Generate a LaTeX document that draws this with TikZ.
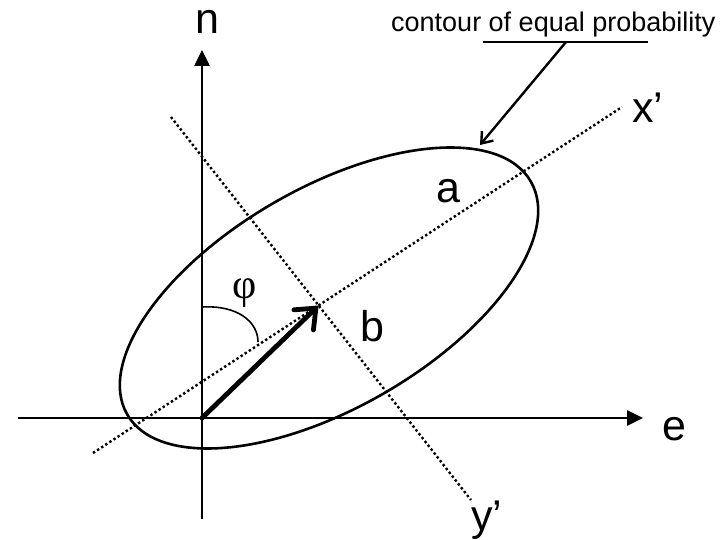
\documentclass[tikz,border=0pt]{standalone}
\usepackage{fontspec}
\setmainfont{Liberation Sans}
\newfontfamily\greekfont{Liberation Serif}
\usetikzlibrary{arrows.meta,calc}

\begin{document}
\begin{tikzpicture}[
  x=1pt, y=1pt,
  axis/.style={line width=2.6pt, -{Triangle[length=16pt,width=15pt]}},
  princ/.style={line width=2.4pt, dash pattern=on 2.4pt off 2.5pt},
  contour/.style={line width=2.6pt},
  lead/.style={line width=2.4pt},
  lbl/.style={inner sep=0pt, font=\fontsize{43}{43}\selectfont, anchor=base},
  note/.style={inner sep=0pt, font=\fontsize{27}{27}\selectfont, anchor=base west},
]
\useasboundingbox (0,0) rectangle (721,-540);
% axes n and e
\coordinate (O) at (202,-418);
\coordinate (nlo) at (202,-519);
\coordinate (nhi) at (202,-50);
\coordinate (elo) at (18,-418);
\coordinate (ehi) at (643,-418);
\draw[axis] (nlo) -- (nhi);
\draw[axis] (elo) -- (ehi);
% principal axes x' and y' (dotted)
\coordinate (xlo) at (93,-453);
\coordinate (xhi) at (622,-107);
\coordinate (ylo) at (171,-117);
\coordinate (yhi) at (471,-500);
\draw[princ] (xlo) -- (xhi);
\draw[princ] (ylo) -- (yhi);
\coordinate (ctr) at (intersection of xlo--xhi and ylo--yhi);
% contour ellipse
\coordinate (ell) at (329,-298);
\draw[contour, rotate around={30:(ell)}] (ell) ellipse [x radius=233, y radius=110];
% offset vector and angle
\draw[line width=4.8pt, line cap=round, -{Straight Barb[length=17pt,width=28pt,line cap=round]}] (O) -- (ctr);
\coordinate (phi1) at (202,-307);
\coordinate (phi2) at (258,-342);
\draw[line width=1.6pt] (phi1) .. controls (238,-305) and (258,-322) .. (phi2);
% labels
\foreach \nm/\px/\py/\txt in {ln/207/-34/n, le/674/-440/e, lx/648/-123/x’, ly/487/-530/y’, la/448/-203/a, lb/372/-342/b}
  \node[lbl] (\nm) at (\px,\py) {\txt};
\node[lbl, anchor=center, font=\greekfont\fontsize{42}{42}\selectfont] (lphi) at (245,-293) {φ};
% note with leader
\node[note] (cnote) at (391,-32) {contour of equal probability};
\coordinate (ul1) at (483,-42);
\coordinate (ul2) at (648,-42);
\coordinate (ulm) at (566,-42);
\coordinate (etip) at (480,-145);
\draw[lead] (ul1) -- (ul2);
\draw[lead, -{Straight Barb[length=10pt,width=15pt]}] (ulm) -- (etip);
\end{tikzpicture}
\end{document}
